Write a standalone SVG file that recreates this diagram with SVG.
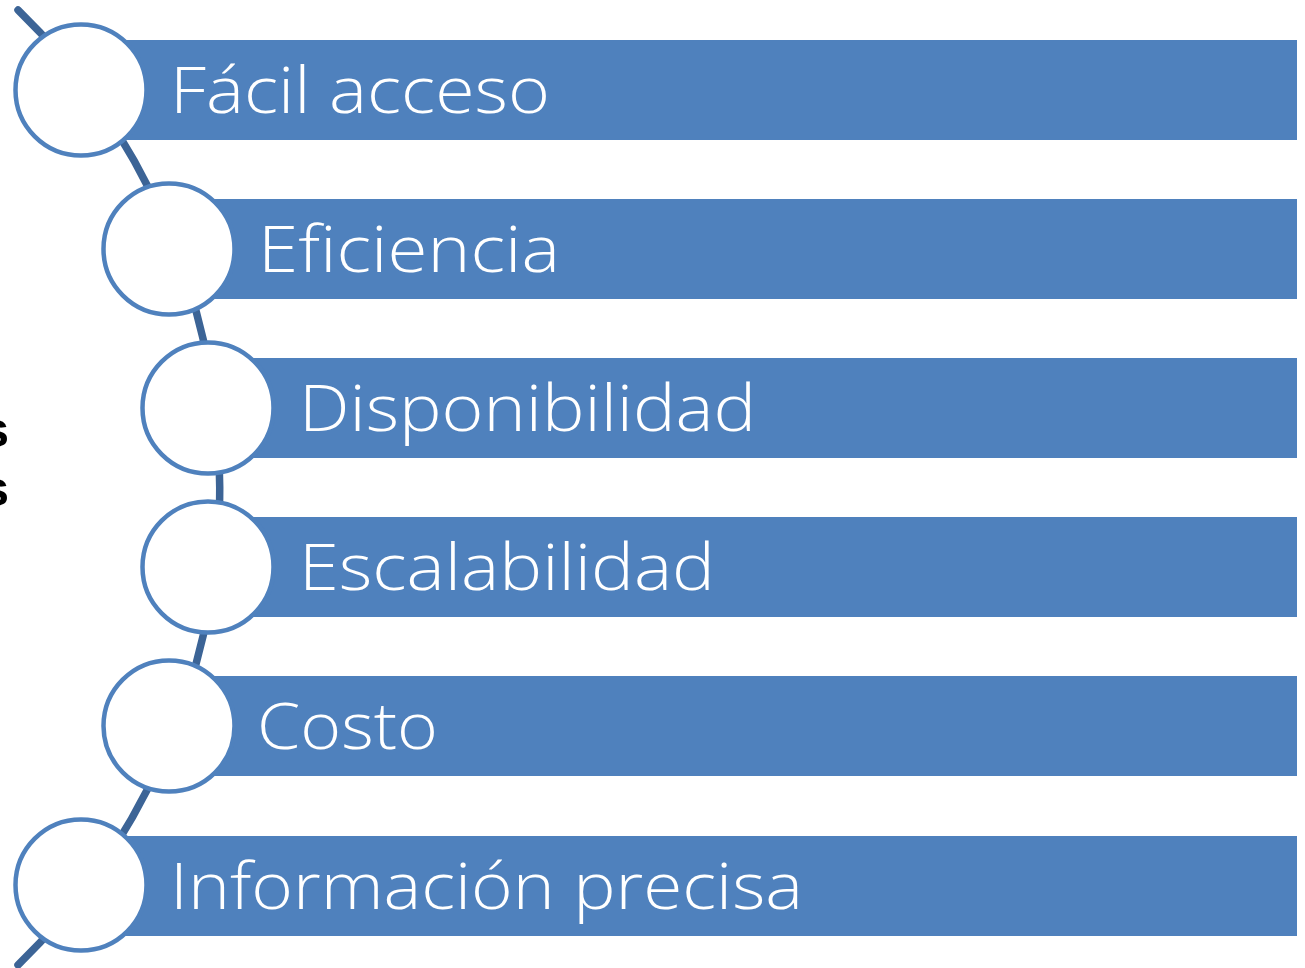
<svg xmlns="http://www.w3.org/2000/svg" width="1305" height="968" viewBox="0 0 1305 968">
  <style>
    .bar { fill: #4F81BD; }
    .ring { fill: #FFFFFF; stroke: #4F81BD; stroke-width: 4.5; }
    .lbl { fill: #FFFFFF; font-family: "Open Sans", "Liberation Sans", sans-serif; font-weight: 300; font-size: 65px; }
    .side { fill: #000000; font-family: "Liberation Sans", sans-serif; font-weight: bold; font-size: 50px; }
    .arc { fill: none; stroke: #3C6496; stroke-width: 7.5; stroke-linecap: round; }
  </style>
  <rect width="1305" height="968" fill="#FFFFFF"/>
  <text class="side" x="9" y="447" text-anchor="end">s</text>
  <text class="side" x="9" y="506" text-anchor="end">s</text>
  <g id="connectors">
    <path class="arc" d="M 18 10 A 666 666 0 0 1 18 965"/>
  </g>
  <g id="node1">
    <rect class="bar" x="82" y="40" width="1215" height="100"/>
    <circle class="ring" cx="81" cy="90" r="65.5"/>
    <text class="lbl" x="170" y="113" textLength="380" lengthAdjust="spacingAndGlyphs">Fácil acceso</text>
  </g>
  <g id="node2">
    <rect class="bar" x="170" y="199" width="1127" height="100"/>
    <circle class="ring" cx="169" cy="249" r="65.5"/>
    <text class="lbl" x="258" y="272" textLength="302" lengthAdjust="spacingAndGlyphs">Eficiencia</text>
  </g>
  <g id="node3">
    <rect class="bar" x="209" y="358" width="1088" height="100"/>
    <circle class="ring" cx="208" cy="408" r="65.5"/>
    <text class="lbl" x="299" y="431" textLength="457" lengthAdjust="spacingAndGlyphs">Disponibilidad</text>
  </g>
  <g id="node4">
    <rect class="bar" x="209" y="517" width="1088" height="100"/>
    <circle class="ring" cx="208" cy="567" r="65.5"/>
    <text class="lbl" x="299" y="590" textLength="416" lengthAdjust="spacingAndGlyphs">Escalabilidad</text>
  </g>
  <g id="node5">
    <rect class="bar" x="170" y="676" width="1127" height="100"/>
    <circle class="ring" cx="169" cy="726" r="65.5"/>
    <text class="lbl" x="257" y="749" textLength="181" lengthAdjust="spacingAndGlyphs">Costo</text>
  </g>
  <g id="node6">
    <rect class="bar" x="82" y="836" width="1215" height="100"/>
    <circle class="ring" cx="81" cy="885" r="65.5"/>
    <text class="lbl" x="170" y="909" textLength="633" lengthAdjust="spacingAndGlyphs">Información precisa</text>
  </g>
</svg>
